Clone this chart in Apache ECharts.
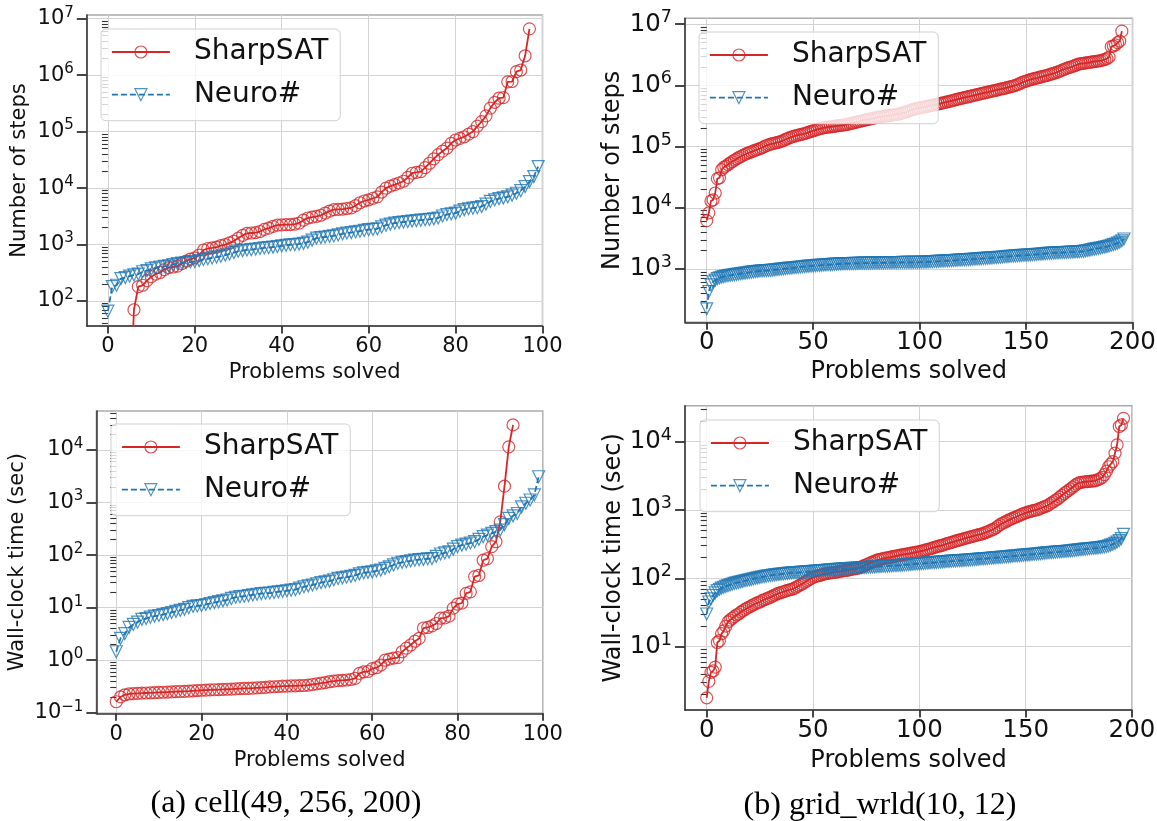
<!DOCTYPE html>
<html>
<head>
<meta charset="utf-8">
<script src="https://cdn.jsdelivr.net/npm/echarts@6/dist/echarts.min.js"></script>
<style>
  html, body { margin: 0; padding: 0; background: #fff; }
  #chart { width: 1157px; height: 821px; }
</style>
</head>
<body>
<div id="chart"></div>
<script>
// ---- (a) cell(49, 256, 200): sorted per-problem results ----
const cellSharpSteps = [1,1,1,1,1,1,70,180,190,230,270,300,320,360,390,400,415,460,510,550,
  580,650,800,850,870,900,960,1000,1070,1150,1300,1450,1580,1600,1620,1700,1850,1950,2100,2200,
  2230,2250,2260,2300,2400,2700,2950,3050,3150,3300,3600,3900,4150,4200,4250,4350,4450,4900,5500,5900,
  6200,6600,7000,8500,10000,10800,11500,12300,13200,15500,18300,19000,19500,23000,27500,33000,39000,45000,51000,62000,
  71000,76000,81000,90000,100000,125000,150000,190000,260000,330000,390000,400000,760000,770000,1150000,1230000,2200000,6600000];
const cellNeuroSteps = [66,180,190,250,260,275,290,300,330,345,370,385,400,410,420,440,460,470,480,490,
  500,520,545,560,580,600,620,650,680,720,760,780,800,810,830,850,870,880,900,920,
  950,970,990,1000,1020,1050,1100,1200,1300,1330,1360,1400,1420,1480,1550,1600,1630,1680,1720,1780,
  1830,1850,1900,2050,2200,2300,2400,2450,2500,2550,2600,2650,2700,2750,2780,2850,2950,3200,3400,3500,
  3600,3900,4150,4300,4400,4500,4700,5200,5800,6200,6500,6700,7000,7500,8100,9000,10600,13000,16000,24000];
const cellSharpTime = [0.162,0.2,0.22,0.228,0.232,0.234,0.236,0.238,0.24,0.242,
  0.244,0.246,0.248,0.25,0.252,0.254,0.256,0.258,0.262,0.265,
  0.268,0.27,0.272,0.274,0.276,0.278,0.28,0.282,0.285,0.288,
  0.29,0.292,0.295,0.298,0.3,0.305,0.31,0.313,0.316,0.32,
  0.322,0.324,0.326,0.328,0.33,0.335,0.345,0.355,0.365,0.375,
  0.39,0.4,0.41,0.415,0.42,0.43,0.45,0.56,0.6,0.61,
  0.69,0.72,0.81,1.0,1.05,1.1,1.12,1.45,1.7,1.95,
  2.3,2.6,4.1,4.2,4.5,5.0,6.3,6.4,6.9,9.8,
  11.7,12.2,18.7,20,39,41,80,86,145,180,
  430,2050,11500,30000];
const cellNeuroTime = [1.45,2.6,3.2,4.2,4.8,5.3,6.0,6.2,6.6,6.9,
  7.1,7.4,7.7,8.1,8.5,8.9,9.3,10.0,10.6,10.8,
  11.0,11.5,12.0,12.5,13.0,13.5,14.0,15.0,15.8,16.2,
  16.5,17.0,17.5,18.0,18.5,18.8,19.0,19.5,20.0,20.5,
  21.0,21.5,22.0,23.5,25.0,26.0,27.0,28.5,30.0,31.0,
  32.0,34.0,36.0,37.0,38.0,39.5,41.0,44.0,46.0,47.0,
  48.0,50.0,52.0,56.0,60.0,65.0,70.0,73.0,75.0,78.0,
  80.0,82.0,83.0,85.0,86.0,95.0,105,110,115,130,
  145,155,162,170,180,200,224,240,260,280,
  300,380,500,560,620,830,970,1120,1400,3100];

// ---- (b) grid_wrld(10, 12) ----
const gridSharpSteps = [6200,8300,13000,13500,17500,30000,31000,42000,46000,48000,
  51000,54000,57000,60000,63000,66000,69000,72000,75000,78000,
  80000,82000,85000,88000,90000,93000,96000,100000,104000,107000,
  110000,112000,114000,117000,119000,122000,126000,131000,136000,140000,
  145000,148000,151000,154000,157000,160000,164000,168000,173000,177000,
  182000,186000,191000,196000,200000,205000,207000,209000,211000,213000,
  215000,218000,220000,223000,225000,228000,232000,236000,241000,245000,
  250000,255000,260000,265000,270000,275000,280000,285000,290000,295000,
  300000,304000,308000,312000,316000,320000,324000,328000,332000,336000,
  340000,347000,356000,365000,375000,385000,395000,405000,415000,422000,
  430000,437000,444000,451000,458000,466000,474000,482000,492000,501000,
  510000,520000,530000,540000,551000,562000,573000,585000,597000,608000,
  620000,632000,644000,656000,668000,681000,694000,708000,722000,736000,
  750000,764000,778000,792000,806000,820000,835000,852000,868000,884000,
  900000,920000,940000,960000,980000,1000000,1030000,1070000,1110000,1150000,
  1180000,1210000,1240000,1270000,1300000,1320000,1350000,1380000,1410000,1440000,
  1460000,1500000,1540000,1580000,1620000,1660000,1720000,1780000,1840000,1900000,
  1950000,2000000,2060000,2120000,2190000,2250000,2280000,2300000,2330000,2360000,
  2390000,2420000,2450000,2480000,2510000,2550000,2600000,2660000,2750000,2900000,
  4300000,4400000,4600000,5000000,5300000,7700000];
const gridNeuroSteps = [224,430,550,620,660,700,720,740,755,770,
  780,790,800,810,820,830,840,850,860,870,
  880,890,900,910,920,930,935,940,945,948,
  950,960,970,980,990,1000,1010,1020,1030,1035,
  1040,1050,1060,1070,1080,1090,1100,1110,1115,1120,
  1130,1140,1145,1150,1160,1165,1170,1180,1185,1190,
  1200,1205,1210,1215,1220,1225,1228,1231,1234,1237,
  1240,1242,1244,1246,1248,1250,1252,1254,1256,1258,
  1260,1262,1264,1266,1268,1270,1272,1274,1276,1278,
  1280,1281,1282,1283,1284,1285,1286,1287,1288,1289,
  1290,1295,1300,1302,1310,1318,1322,1330,1335,1340,
  1345,1350,1356,1362,1368,1375,1380,1388,1395,1402,
  1410,1418,1425,1430,1440,1448,1455,1462,1470,1480,
  1490,1498,1505,1512,1520,1530,1540,1550,1560,1575,
  1590,1600,1610,1620,1630,1640,1650,1660,1668,1676,
  1685,1695,1705,1715,1725,1735,1745,1758,1770,1785,
  1800,1810,1818,1826,1834,1842,1850,1858,1866,1874,
  1882,1890,1898,1906,1914,1925,1938,1950,1980,2010,
  2040,2080,2120,2150,2180,2210,2250,2290,2330,2380,
  2450,2510,2570,2650,2750,2900,3100];
const gridSharpTime = [1.78,3.1,4.2,4.4,5.0,11.5,12.2,15.5,17,20,
  23,24.5,26,27.5,29,30,32,33.5,35,36.5,
  38,39.5,41,42.5,44,45,47,48.5,50,51.5,
  53,55,57,59,60.5,62,63.5,65,66.5,68,
  69,71,74,77,80,83,87,91,95,99,
  103,106,108,110,112,115,116.5,118,119.5,121,
  122,123.5,125,127,128.5,130,131,133,135,137,
  139,141,144,148,153,158,163,168,173,179,
  185,188,191,194,197,200,203,206,209,212,
  215,218,221,224,227,230,233,236,239,242,
  245,250,255,260,265,271,277,283,289,295,
  300,307,314,321,328,335,342,350,358,365,
  372,380,388,396,404,412,420,428,435,442,
  450,465,480,495,510,525,550,580,610,640,
  660,685,710,735,760,780,805,830,860,885,
  910,930,950,970,985,1000,1030,1060,1090,1120,
  1150,1200,1260,1320,1380,1450,1540,1630,1730,1830,
  1920,2030,2150,2270,2390,2500,2540,2570,2590,2610,
  2630,2650,2670,2700,2780,2880,3000,3300,3700,4300,
  4700,5100,6800,9000,16700,17600,22000];
const gridNeuroTime = [30,45,50,56,61,66,69,72,74,76,
  78,80,82,84,85.5,87,88.5,90,92,93.5,
  95,96.5,98,100,101.5,103,104.5,106,107.5,109,
  110,111,112,113,114,115,116,117,118,119,
  120,120.5,121,121.5,122,123,123.5,124,125,125.5,
  126,127,128,128.5,129,130,131,132,132.5,133,
  134,135,135.5,136,137,137.5,138,139,139.5,140,
  141,141.5,142,143,143.5,144,145,146,146.5,147,
  148,148.5,149,150,150.5,151,152,152.5,153,153.5,
  154,155,156,157,158,159,160,161,162,162.5,
  163,164,165,166,167,168,169,170,171,172,
  173,174,175,176,177,178,179,180,181,181.5,
  182,183,184,185,186,187,188,189.5,191,192,
  193,194,195,196.5,198,199,200,201,202.5,204,
  205,206.5,208,209.5,211,212,213.5,215,216.5,218,
  219,220.5,222,223.5,225,226.5,228,229.5,231,233,
  235,236.5,238,239.5,241,242.5,244,245.5,247,248.5,
  250,252,254,256,258,260,262.5,265,267,269,
  271,273,275,277,279,282,285,288,292,298,
  305,315,325,340,355,380,440];

// ---- tick labels ----
const cellTicksX = [0, 20, 40, 60, 80, 100];
const gridTicksX = [0, 50, 100, 150, 200];
const stepTicksY = [1e2, 1e3, 1e4, 1e5, 1e6, 1e7];
const timeTicksY = [1e-1, 1e0, 1e1, 1e2, 1e3, 1e4];

const SERIES_NAMES = ['SharpSAT', 'Neuro#'];
const X_NAME = 'Problems solved';
const CAPTIONS = ['(a) cell(49, 256, 200)', '(b) grid_wrld(10, 12)'];

// ---- styling ----
const RED = '#d62728', RED_MK = 'rgba(214,39,40,0.8)';
const BLUE = '#1f77b4', BLUE_MK = 'rgba(31,119,180,0.8)';
const SANS = "'DejaVu Sans', sans-serif";
const INK = '#111';

const panels = [
  { sharp: cellSharpSteps, neuro: cellNeuroSteps, yName: 'Number of steps',
    box: [86.8, 15, 542.5, 326], xr: [-4.85, 100], xt: cellTicksX, yr: [36.1, 1.16e7], yt: stepTicksY,
    fs: 21, sup: 15, nfs: 21, yGap: 57, xGap: 36, xMargin: 10, legend: [101, 29] },
  { sharp: gridSharpSteps, neuro: gridNeuroSteps, yName: 'Number of steps',
    box: [685, 18.3, 1132.5, 322.3], xr: [-10.2, 200], xt: gridTicksX, yr: [135, 1.25e7], yt: stepTicksY,
    fs: 24.5, sup: 17.5, nfs: 24, yGap: 60, xGap: 37.5, xMargin: 8, legend: [699, 32] },
  { sharp: cellSharpTime, neuro: cellNeuroTime, yName: 'Wall-clock time (sec)',
    box: [96.4, 411, 542.9, 713.3], xr: [-4.65, 100], xt: cellTicksX, yr: [0.0977, 55300], yt: timeTicksY,
    fs: 21, sup: 15, nfs: 21, yGap: 68, xGap: 36.5, xMargin: 11, legend: [111, 424] },
  { sharp: gridSharpTime, neuro: gridNeuroTime, yName: 'Wall-clock time (sec)',
    box: [685, 405.7, 1132, 710], xr: [-10.2, 200], xt: gridTicksX, yr: [1.18, 33650], yt: timeTicksY,
    fs: 24.5, sup: 17.5, nfs: 24, yGap: 59, xGap: 38.5, xMargin: 8, legend: [700, 420] }
];

function pairs(vals) { return vals.map((v, i) => [i, v]); }

function powerLabel(v) {
  const e = Math.round(Math.log10(v));
  return '{b|10}{s|' + (e < 0 ? '\u2212' + (-e) : e) + '}';
}

// minor log ticks (2..9 x 10^n) inside an axis range
function minorTicks(lo, hi) {
  const out = [];
  for (let e = Math.floor(Math.log10(lo)); e <= Math.ceil(Math.log10(hi)); e++) {
    for (let k = 2; k <= 9; k++) {
      const v = k * Math.pow(10, e);
      if (v >= lo && v <= hi) out.push(v);
    }
  }
  return out;
}

const grid = [], xAxis = [], yAxis = [], series = [], legend = [];

panels.forEach((p, i) => {
  grid.push({
    left: p.box[0], top: p.box[1], width: p.box[2] - p.box[0], height: p.box[3] - p.box[1],
    show: true, borderColor: '#aaa', borderWidth: 1.5, backgroundColor: 'transparent',
    containLabel: false, outerBoundsMode: 'none'
  });

  xAxis.push({
    type: 'value', gridIndex: i, min: p.xr[0], max: p.xr[1], position: 'bottom',
    axisLine: { show: true, onZero: false, lineStyle: { color: '#333', width: 1.5 } },
    axisTick: { show: true, customValues: p.xt, length: 7.5, lineStyle: { color: '#333', width: 1.8 } },
    axisLabel: { customValues: p.xt, fontFamily: SANS, fontSize: p.fs, color: INK, margin: p.xMargin },
    splitLine: { show: true, lineStyle: { color: '#d3d3d3', width: 1 } },
    name: X_NAME, nameLocation: 'middle', nameGap: p.xGap,
    nameTextStyle: { fontFamily: SANS, fontSize: p.nfs, color: INK }
  });

  // major decades with labels
  yAxis.push({
    type: 'log', logBase: 10, gridIndex: i, min: p.yr[0], max: p.yr[1], position: 'left',
    axisLine: { show: true, onZero: false, lineStyle: { color: '#333', width: 1.5 } },
    axisTick: { show: true, customValues: p.yt, length: 10, lineStyle: { color: '#333', width: 1.8 } },
    axisLabel: {
      customValues: p.yt, margin: 13, formatter: powerLabel,
      rich: {
        b: { fontFamily: SANS, fontSize: p.fs, color: INK },
        s: { fontFamily: SANS, fontSize: p.sup, color: INK, padding: [0, 0, Math.round(p.fs * 0.55), 0] }
      }
    },
    splitLine: { show: true, lineStyle: { color: '#d3d3d3', width: 1 } },
    name: p.yName, nameLocation: 'middle', nameGap: p.yGap, nameRotate: 90,
    nameTextStyle: { fontFamily: SANS, fontSize: p.nfs, color: INK }
  });
  // minor ticks between decades
  yAxis.push({
    type: 'log', logBase: 10, gridIndex: i, min: p.yr[0], max: p.yr[1], position: 'left',
    axisLine: { show: false },
    axisTick: { show: true, customValues: minorTicks(p.yr[0], p.yr[1]), length: 6, lineStyle: { color: '#333', width: 1.1 } },
    axisLabel: { show: false },
    splitLine: { show: false }
  });

  series.push({
    type: 'line', name: SERIES_NAMES[0], xAxisIndex: i, yAxisIndex: 2 * i,
    data: pairs(p.sharp), symbol: 'circle', symbolSize: 12, showAllSymbol: true,
    itemStyle: { color: 'rgba(0,0,0,0)', borderColor: RED_MK, borderWidth: 1.2 },
    lineStyle: { color: RED, width: 1.8 },
    emphasis: { disabled: true }, clip: true, z: 2
  });
  series.push({
    type: 'line', name: SERIES_NAMES[1], xAxisIndex: i, yAxisIndex: 2 * i,
    data: pairs(p.neuro), symbol: 'triangle', symbolRotate: 180, symbolSize: 12, showAllSymbol: true,
    itemStyle: { color: 'rgba(0,0,0,0)', borderColor: BLUE_MK, borderWidth: 1.2 },
    lineStyle: { color: BLUE, width: 1.8, type: [6, 3] },
    emphasis: { disabled: true }, clip: true, z: 3
  });

  legend.push({
    left: p.legend[0], top: p.legend[1], orient: 'vertical',
    itemWidth: 58, itemHeight: 15, itemGap: 14.7, selectedMode: false,
    padding: [9, 12, 12, 10],
    backgroundColor: 'rgba(255,255,255,0.8)', borderColor: '#d0d0d0', borderWidth: 1, borderRadius: 5,
    textStyle: { fontFamily: SANS, fontSize: 28, color: INK, padding: [0, 0, 0, 19] },
    data: [
      { name: SERIES_NAMES[0], itemStyle: { color: 'rgba(0,0,0,0)', borderColor: RED_MK, borderWidth: 1.2 },
        lineStyle: { color: RED, width: 1.8 } },
      { name: SERIES_NAMES[1], itemStyle: { color: 'rgba(0,0,0,0)', borderColor: BLUE_MK, borderWidth: 1.2 },
        lineStyle: { color: BLUE, width: 1.8, type: [6, 3] } }
    ]
  });
});

const capStyle = (text) => ({
  text, font: "32px 'Liberation Serif', serif", fill: '#000',
  align: 'center', verticalAlign: 'middle', textAlign: 'center', textVerticalAlign: 'middle'
});

const chart = echarts.init(document.getElementById('chart'), null, { renderer: 'canvas' });
chart.setOption({
  animation: false,
  backgroundColor: '#fff',
  grid, xAxis, yAxis, series, legend,
  graphic: [
    { type: 'text', x: 286, y: 804, style: capStyle(CAPTIONS[0]) },
    { type: 'text', x: 880, y: 806, style: capStyle(CAPTIONS[1]) }
  ]
});
</script>
</body>
</html>
